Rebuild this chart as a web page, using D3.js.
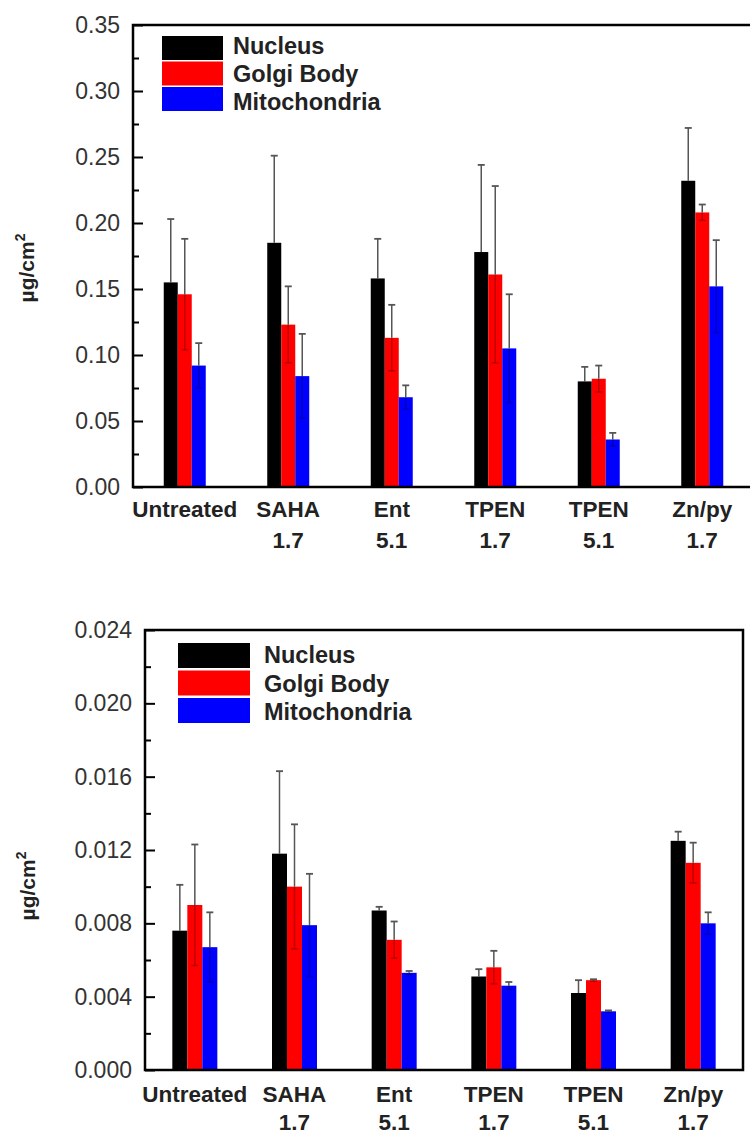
<!DOCTYPE html>
<html>
<head>
<meta charset="utf-8">
<script src="https://cdn.jsdelivr.net/npm/d3@7"></script>
<style>
  html, body { margin: 0; padding: 0; background: #fff; }
  svg { display: block; font-family: "Liberation Sans", Arial, sans-serif; }
</style>
</head>
<body>
<div id="chart"></div>
<script>
const categories = ["Untreated", "SAHA", "Ent", "TPEN", "TPEN", "Zn/py"];
const doses = ["", "1.7", "5.1", "1.7", "5.1", "1.7"];
const seriesNames = ["Nucleus", "Golgi Body", "Mitochondria"];
const seriesColors = ["#000000", "#ff0000", "#0000ff"];

// top panel
const nucleusTop = [0.155, 0.185, 0.158, 0.178, 0.080, 0.232];
const nucleusTopErr = [0.048, 0.066, 0.030, 0.066, 0.011, 0.040];
const golgiTop = [0.146, 0.123, 0.113, 0.161, 0.082, 0.208];
const golgiTopErr = [0.042, 0.029, 0.025, 0.067, 0.010, 0.006];
const mitoTop = [0.092, 0.084, 0.068, 0.105, 0.036, 0.152];
const mitoTopErr = [0.017, 0.032, 0.009, 0.041, 0.005, 0.035];
const topTicks = [0, 0.05, 0.10, 0.15, 0.20, 0.25, 0.30, 0.35];
const topMinor = [0.025, 0.075, 0.125, 0.175, 0.225, 0.275, 0.325];

// bottom panel
const nucleusBot = [0.0076, 0.0118, 0.0087, 0.0051, 0.0042, 0.0125];
const nucleusBotErr = [0.0025, 0.0045, 0.0002, 0.0004, 0.0007, 0.0005];
const golgiBot = [0.0090, 0.0100, 0.0071, 0.0056, 0.0049, 0.0113];
const golgiBotErr = [0.0033, 0.0034, 0.0010, 0.0009, 0.00005, 0.0011];
const mitoBot = [0.0067, 0.0079, 0.0053, 0.0046, 0.0032, 0.0080];
const mitoBotErr = [0.0019, 0.0028, 0.0001, 0.0002, 0.00005, 0.0006];
const botTicks = [0, 0.004, 0.008, 0.012, 0.016, 0.020, 0.024];
const botMinor = [0.002, 0.006, 0.010, 0.014, 0.018, 0.022];

const width = 750;
const height = 1136;

const svg = d3.select("#chart")
  .append("svg")
  .attr("width", width)
  .attr("height", height);

drawPanel({
  values: [nucleusTop, golgiTop, mitoTop],
  errors: [nucleusTopErr, golgiTopErr, mitoTopErr],
  ticks: topTicks,
  minor: topMinor,
  format: d3.format(".2f"),
  left: 133, right: 754, top: 25, bottom: 487,
  barWidth: 14,
  legend: { x: 162, y: 36, w: 61, h: 24, step: 25.5, textX: 233, textY: 54, textStep: 28 },
  labelY: [517, 548],
  yLabel: { x: 34, y: 268 }
});

drawPanel({
  values: [nucleusBot, golgiBot, mitoBot],
  errors: [nucleusBotErr, golgiBotErr, mitoBotErr],
  ticks: botTicks,
  minor: botMinor,
  format: d3.format(".3f"),
  left: 145, right: 743, top: 630, bottom: 1070,
  barWidth: 15,
  legend: { x: 178, y: 643, w: 72, h: 25, step: 27.5, textX: 264, textY: 663, textStep: 28.5 },
  labelY: [1102, 1130],
  yLabel: { x: 35, y: 886 }
});

function drawPanel(p) {
  const g = svg.append("g");
  const idx = categories.map((c, i) => i);

  const x = d3.scaleBand()
    .domain(idx)
    .range([p.left, p.right])
    .padding(0);

  const y = d3.scaleLinear()
    .domain([p.ticks[0], p.ticks[p.ticks.length - 1]])
    .range([p.bottom, p.top]);

  const center = (i) => x(i) + x.bandwidth() / 2;
  const barX = (i, s) => center(i) + (s - 1.5) * p.barWidth;

  // bars
  p.values.forEach((series, s) => {
    g.append("g")
      .selectAll("rect")
      .data(series)
      .join("rect")
      .attr("x", (d, i) => barX(i, s))
      .attr("y", (d) => y(d))
      .attr("width", p.barWidth)
      .attr("height", (d) => y(0) - y(d))
      .attr("fill", seriesColors[s]);
  });

  // error bars
  p.values.forEach((series, s) => {
    const eg = g.append("g");
    series.forEach((v, i) => {
      const e = p.errors[s][i];
      const cx = barX(i, s) + p.barWidth / 2;
      eg.append("line")
        .attr("x1", cx).attr("x2", cx)
        .attr("y1", y(v)).attr("y2", y(v + e))
        .attr("stroke", "#555").attr("stroke-width", 1.5);
      eg.append("line")
        .attr("x1", cx - 3.5).attr("x2", cx + 3.5)
        .attr("y1", y(v + e)).attr("y2", y(v + e))
        .attr("stroke", "#555").attr("stroke-width", 1.8);
      // lower half sits inside the bar, barely visible
      eg.append("line")
        .attr("x1", cx).attr("x2", cx)
        .attr("y1", y(v)).attr("y2", y(v - e))
        .attr("stroke", "rgba(0,0,0,0.25)").attr("stroke-width", 1.5);
      eg.append("line")
        .attr("x1", cx - 3.5).attr("x2", cx + 3.5)
        .attr("y1", y(v - e)).attr("y2", y(v - e))
        .attr("stroke", "rgba(0,0,0,0.25)").attr("stroke-width", 1.5);
    });
  });

  // minor ticks
  g.append("g")
    .attr("transform", `translate(${p.left},0)`)
    .call(d3.axisLeft(y).tickValues(p.minor).tickSize(-6).tickFormat(""))
    .call((a) => a.select(".domain").remove())
    .call((a) => a.selectAll("line").attr("stroke", "#000").attr("stroke-width", 2));

  // major ticks + labels
  g.append("g")
    .attr("transform", `translate(${p.left},0)`)
    .call(d3.axisLeft(y).tickValues(p.ticks).tickSize(-10).tickPadding(13).tickFormat(p.format))
    .call((a) => a.select(".domain").remove())
    .call((a) => a.selectAll("line").attr("stroke", "#000").attr("stroke-width", 2))
    .call((a) => a.selectAll("text")
      .attr("font-size", 23)
      .attr("fill", "#333")
      .attr("font-family", "Liberation Sans, Arial, sans-serif"));

  // frame
  g.append("rect")
    .attr("x", p.left)
    .attr("y", p.top)
    .attr("width", p.right - p.left)
    .attr("height", p.bottom - p.top)
    .attr("fill", "none")
    .attr("stroke", "#000")
    .attr("stroke-width", 2.5);

  // category labels
  const lab = g.append("g")
    .attr("font-size", 22.5)
    .attr("font-weight", 700)
    .attr("fill", "#222")
    .attr("text-anchor", "middle");
  lab.selectAll("text.cat")
    .data(categories)
    .join("text")
    .attr("class", "cat")
    .attr("x", (d, i) => center(i))
    .attr("y", p.labelY[0])
    .text((d) => d);
  lab.selectAll("text.dose")
    .data(doses)
    .join("text")
    .attr("class", "dose")
    .attr("x", (d, i) => center(i))
    .attr("y", p.labelY[1])
    .text((d) => d);

  // y label
  const yl = g.append("text")
    .attr("transform", `translate(${p.yLabel.x},${p.yLabel.y}) rotate(-90)`)
    .attr("text-anchor", "middle")
    .attr("font-size", 21)
    .attr("font-weight", 700)
    .attr("fill", "#222");
  yl.append("tspan").text("\u00b5g/cm");
  yl.append("tspan").attr("font-size", 14).attr("dy", -9).text("2");

  // legend
  const L = p.legend;
  const lg = g.append("g");
  seriesNames.forEach((name, s) => {
    lg.append("rect")
      .attr("x", L.x)
      .attr("y", L.y + s * L.step)
      .attr("width", L.w)
      .attr("height", L.h)
      .attr("fill", seriesColors[s]);
    lg.append("text")
      .attr("x", L.textX)
      .attr("y", L.textY + s * L.textStep)
      .attr("font-size", 23.5)
      .attr("font-weight", 700)
      .attr("fill", "#222")
      .text(name);
  });
}
</script>
</body>
</html>
